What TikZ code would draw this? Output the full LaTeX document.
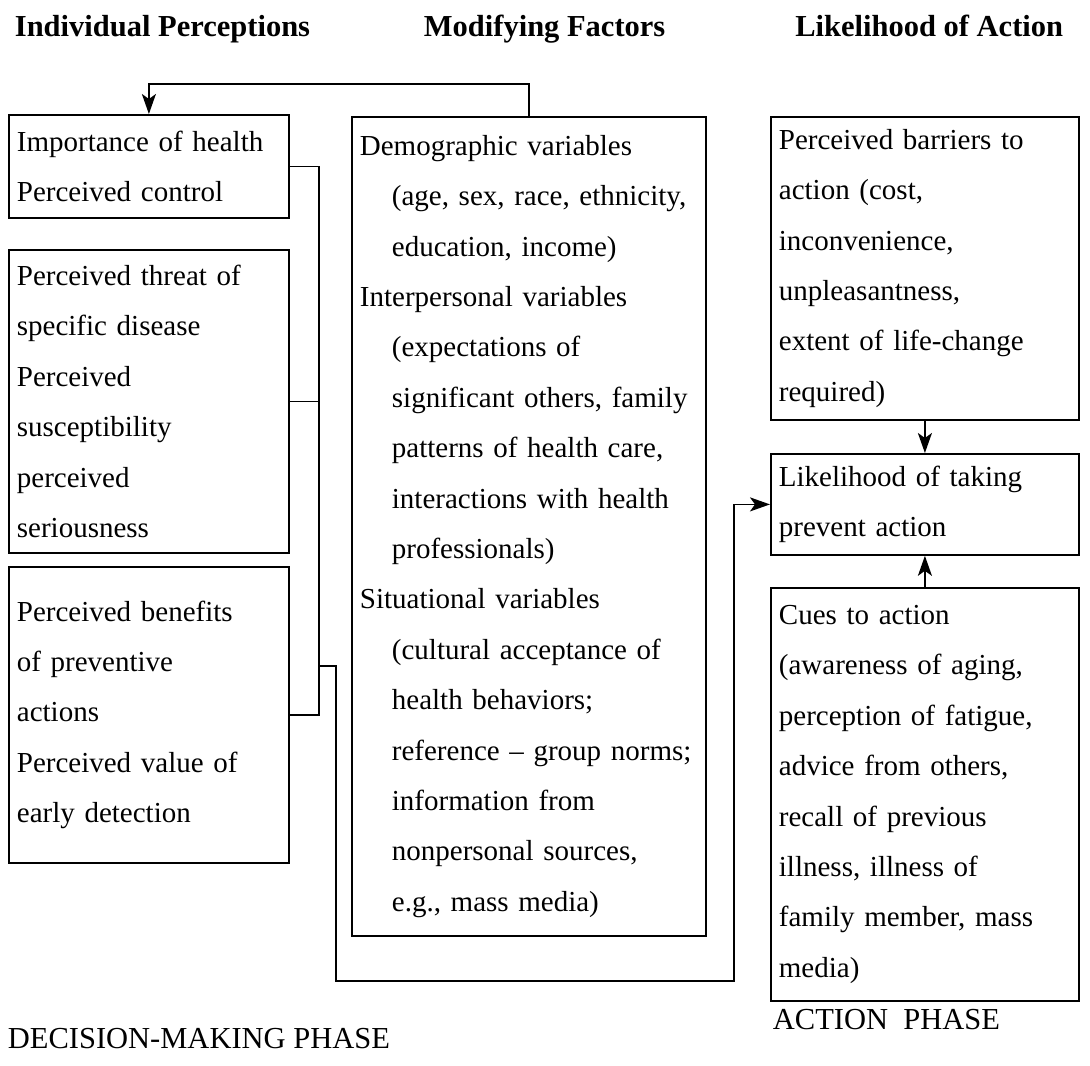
\documentclass[tikz,border=0pt]{standalone}
\usepackage{fontspec}
\setmainfont{Liberation Serif}
\usepackage{tikz}
\usetikzlibrary{arrows.meta,calc}

\newcommand{\boxfont}{\fontsize{14.5}{25.2}\selectfont}
\newcommand{\sub}{\hspace*{16pt}}

\tikzstyle{box} = [draw, rectangle, anchor=north west, line width=0.9pt, inner xsep=4pt, inner ysep=0pt, align=left, font=\boxfont]
\tikzstyle{leftbox} = [box, minimum width=140pt, text width=132pt]
\tikzstyle{midbox} = [box, minimum width=177pt, text width=169pt]
\tikzstyle{rightbox} = [box, minimum width=154pt, text width=146pt]
\tikzstyle{head} = [inner sep=0pt, font=\fontsize{15.25}{18}\selectfont\bfseries]
\tikzstyle{phase} = [inner sep=0pt, font=\fontsize{15.25}{18}\selectfont]

\begin{document}
\begin{tikzpicture}[x=0.5pt, y=-0.5pt, >={Stealth[length=10pt,width=7pt,inset=2.5pt]}, line width=0.9pt]
\useasboundingbox (0,0) rectangle (1090,1065);

%% Overskrifter %%
\node [head, anchor=base west] (HeadPerc) at (14,37) {Individual Perceptions};
\node [head, anchor=base west] (HeadMod) at (423,37) {Modifying Factors};
\node [head, anchor=base east] (HeadAct) at (1064,37) {Likelihood of Action};

%% Individual perceptions %%
\node [leftbox, minimum height=51.5pt] (Importance) at (8,114) {Importance of health\\Perceived control};
\node [leftbox, minimum height=151.5pt] (Threat) at (8,249) {Perceived threat of\\specific disease\\Perceived\\susceptibility\\perceived\\seriousness};
\node [leftbox, minimum height=148pt] (Benefits) at (8,566) {Perceived benefits\\of preventive\\actions\\Perceived value of\\early detection};

%% Modifying factors %%
\node [midbox, minimum height=409.5pt] (Modifying) at (351,116) {Demographic variables\\
\sub(age, sex, race, ethnicity,\\
\sub education, income)\\
Interpersonal variables\\
\sub(expectations of\\
\sub significant others, family\\
\sub patterns of health care,\\
\sub interactions with health\\
\sub professionals)\\
Situational variables\\
\sub(cultural acceptance of\\
\sub health behaviors;\\
\sub reference -- group norms;\\
\sub information from\\
\sub nonpersonal sources,\\
\sub e.g., mass media)};

%% Likelihood of action %%
\node [rightbox, minimum height=151.5pt] (Barriers) at (770,116) {Perceived barriers to\\action (cost,\\inconvenience,\\unpleasantness,\\extent of life-change\\required)};
\node [rightbox, minimum height=50.5pt] (Likelihood) at (770,453) {Likelihood of taking\\prevent action};
\node [rightbox, minimum height=206.5pt] (Cues) at (770,587) {Cues to action\\(awareness of aging,\\perception of fatigue,\\advice from others,\\recall of previous\\illness, illness of\\family member, mass\\media)};

%% Faser %%
\node [phase, anchor=base west] (PhaseDecision) at (7,1048) {DECISION-MAKING PHASE};
\node [phase, anchor=base west] (PhaseAction) at (772,1029) {ACTION\hspace{0.5em}PHASE};

%% Forbindelse %%
\coordinate (top) at (0,84);
\coordinate (bus) at (319,0);
\coordinate (tap) at (319,666);
\coordinate (loopL) at (336,981);
\coordinate (loopR) at (734,981);

\draw[->] (Modifying.north) |- (Importance.north |- top) -- (Importance.north);

\draw (Importance.east) -- (Importance.east -| bus) -- (Benefits.east -| bus) -- (Benefits.east);
\draw (Threat.east) -- (Threat.east -| bus);

\draw[->] (tap) -| (loopL) -- (loopR) |- (Likelihood.west);

\draw[->] (Barriers.south) -- (Likelihood.north);
\draw[->] (Cues.north) -- (Likelihood.south);
\end{tikzpicture}
\end{document}
